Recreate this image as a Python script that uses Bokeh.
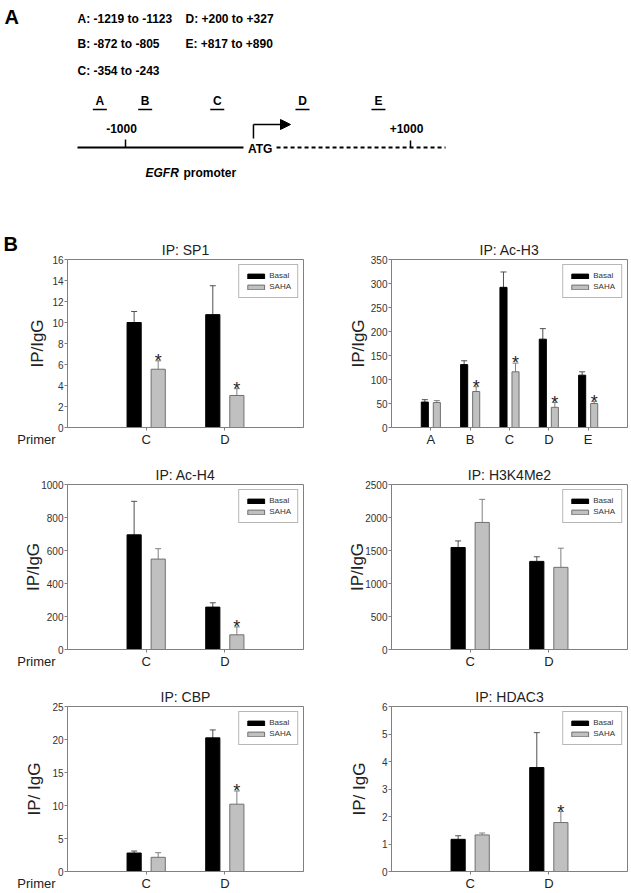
import numpy as np
from bokeh.plotting import figure
from bokeh.models import (Range1d, FixedTicker, Whisker, TeeHead, ColumnDataSource,
                          Legend, LegendItem, Label, Arrow, NormalHead, Title)
from bokeh.layouts import column, row
from bokeh.embed import file_html
from bokeh.resources import INLINE
from bokeh.core.properties import value

FONT = "Liberation Sans"

# ---------------- Panel A data ----------------
primer_names = ["A", "B", "C", "D", "E"]
primer_ranges = ["-1219 to -1123", "-872 to -805", "-354 to -243", "+200 to +327", "+817 to +890"]
primer_draw_mid = [-1180, -862, -356, 242, 775]     # schematic positions on the map (bp)
scale_marks = [-1000, 1000]
scale_labels = ["-1000", "+1000"]
promoter_start = -1337
atg_pos = -55
gene_end = 1246

# ---------------- Panel B data ----------------
sp1_primers = ["C", "D"]
sp1_basal, sp1_basal_err = [10.0, 10.75], [1.05, 2.75]
sp1_saha, sp1_saha_err = [5.55, 3.05], [0.8, 0.65]
sp1_star = [True, True]

h3_primers = ["A", "B", "C", "D", "E"]
h3_basal, h3_basal_err = [53, 131, 292, 184, 109], [5, 8, 32, 22, 7]
h3_saha, h3_saha_err = [52, 75, 116, 42, 50], [4, 10, 18, 10, 4]
h3_star = [False, True, True, True, True]

h4_primers = ["C", "D"]
h4_basal, h4_basal_err = [695, 257], [203, 26]
h4_saha, h4_saha_err = [548, 89], [63, 48]
h4_star = [False, True]

k4_primers = ["C", "D"]
k4_basal, k4_basal_err = [1545, 1335], [100, 70]
k4_saha, k4_saha_err = [1925, 1245], [350, 290]
k4_star = [False, False]

cbp_primers = ["C", "D"]
cbp_basal, cbp_basal_err = [2.8, 20.25], [0.3, 1.2]
cbp_saha, cbp_saha_err = [2.15, 10.2], [0.7, 2.0]
cbp_star = [False, True]

hd_primers = ["C", "D"]
hd_basal, hd_basal_err = [1.17, 3.78], [0.13, 1.27]
hd_saha, hd_saha_err = [1.33, 1.78], [0.07, 0.4]
hd_star = [False, True]

series_names = ["Basal", "SAHA"]

# ---------------- Panel A figure ----------------
PA_W, PA_H = 631, 182
BPPX = 2000.0 / 285.0
X0 = -1000 - 125 * BPPX
X1 = X0 + PA_W * BPPX


def bx(page_x):
    return X0 + page_x * BPPX


pa = figure(width=PA_W, height=PA_H, x_range=Range1d(X0, X1), y_range=Range1d(PA_H, 0),
            output_backend="svg", toolbar_location=None, min_border=0,
            x_axis_location=None, y_axis_location=None, outline_line_color=None)
pa.grid.visible = False

pa.text(x=[bx(4)], y=[16], text=["A"], text_font=value(FONT), text_font_style="bold",
        text_font_size="20px", text_baseline="middle", text_align="left", text_color="black")

col_x = [bx(77)] * 3 + [bx(185)] * 2
col_y = [18, 43, 70, 18, 43]
pa.text(x=col_x, y=col_y, text=[f"{n}: {r}" for n, r in zip(primer_names, primer_ranges)],
        text_font=value(FONT), text_font_style="bold", text_font_size="12px",
        text_baseline="middle", text_align="left", text_color="black")

half_u = 7 * BPPX
pa.text(x=primer_draw_mid, y=[100] * 5, text=primer_names, text_font=value(FONT),
        text_font_style="bold", text_font_size="12px", text_baseline="middle",
        text_align="center", text_color="black")
pa.segment(x0=[m - half_u for m in primer_draw_mid], x1=[m + half_u for m in primer_draw_mid],
           y0=[109] * 5, y1=[109] * 5, line_color="black", line_width=1.5)

pa.text(x=[m - 4 * BPPX for m in scale_marks], y=[128, 128], text=scale_labels,
        text_font=value(FONT), text_font_style="bold", text_font_size="12px",
        text_baseline="middle", text_align="center", text_color="black")
pa.segment(x0=scale_marks, x1=scale_marks, y0=[139, 140], y1=[147, 147],
           line_color="black", line_width=1.5)

pa.segment(x0=[promoter_start], x1=[atg_pos - 117], y0=[147], y1=[147],
           line_color="black", line_width=2)
pa.segment(x0=[atg_pos + 115], x1=[gene_end], y0=[147], y1=[147],
           line_color="black", line_width=2, line_dash="4 3")
pa.text(x=[atg_pos], y=[148], text=["ATG"], text_font=value(FONT), text_font_style="bold",
        text_font_size="12px", text_baseline="middle", text_align="center", text_color="black")

arrow_x0 = atg_pos - 47
pa.segment(x0=[arrow_x0], x1=[arrow_x0], y0=[138], y1=[124], line_color="black", line_width=1.5)
pa.add_layout(Arrow(end=NormalHead(size=10, fill_color="black", line_color="black"),
                    x_start=arrow_x0, y_start=124, x_end=atg_pos + 213, y_end=124,
                    line_color="black", line_width=1.5))

pa.text(x=[bx(145)], y=[172], text=["EGFR"], text_font=value(FONT), text_font_style="bold italic",
        text_font_size="12px", text_baseline="middle", text_align="left", text_color="black")
pa.text(x=[bx(183)], y=[172], text=["promoter"], text_font=value(FONT), text_font_style="bold",
        text_font_size="12px", text_baseline="middle", text_align="left", text_color="black")


# ---------------- Panel B charts ----------------
def make_chart(title, primers, basal, basal_err, saha, saha_err, stars, ymax, ystep,
               ylabel, ylab_standoff, left_col, height, bt, bb, primer_label=False,
               panel_letter=None):
    n = len(primers)
    if left_col:
        W, bl, br = 314, 67, 11
    else:
        W, bl, br = 317, 77, 4
    frame_w = W - bl - br
    frame_h = height - bt - bb
    p = figure(width=W, height=height, x_range=Range1d(0, n + 1), y_range=Range1d(0, ymax),
               title=None, output_backend="svg", toolbar_location=None,
               min_border_left=bl, min_border_right=br, min_border_top=bt, min_border_bottom=bb,
               background_fill_color="white", border_fill_color="white",
               outline_line_color="#808080", outline_line_width=1)
    p.grid.visible = False

    # title first so it sits right above the frame
    p.add_layout(Title(text=title, align="center", vertical_align="top", text_font=FONT,
                       text_font_size="14px", text_font_style="normal", text_color="#222222",
                       standoff=0), "above")

    xs = np.arange(1, n + 1)
    off, bw = 0.153, 0.18
    bx_ = xs - off
    sx_ = xs + off
    rb = p.vbar(x=bx_, top=basal, width=bw, fill_color="black", line_color="black")
    rs = p.vbar(x=sx_, top=saha, width=bw, fill_color="#c0c0c0", line_color="#707070", line_width=1)

    for xx, m, e, col in ((bx_, basal, basal_err, "#505050"), (sx_, saha, saha_err, "#808080")):
        src = ColumnDataSource(dict(x=xx, lower=m, upper=np.array(m) + np.array(e)))
        w = Whisker(base="x", lower="lower", upper="upper", source=src, dimension="height",
                    line_color=col, line_width=1,
                    upper_head=TeeHead(size=6, line_color=col, line_width=1), lower_head=None)
        p.add_layout(w)

    st_x = [sx_[i] for i in range(n) if stars[i]]
    st_y = [saha[i] + saha_err[i] for i in range(n) if stars[i]]
    if st_x:
        p.text(x=st_x, y=st_y, text=["*"] * len(st_x), text_font=value(FONT),
               text_font_size="18px", text_align="center", text_baseline="alphabetic",
               text_color="#222222")

    leg = Legend(items=[LegendItem(label=series_names[0], renderers=[rb]),
                        LegendItem(label=series_names[1], renderers=[rs])],
                 location="top_right", margin=5, padding=6, spacing=2, label_height=8,
                 glyph_height=6, glyph_width=21, label_standoff=3,
                 label_text_font_size="8px", label_text_font=FONT, label_text_color="#333333",
                 border_line_color="#707070", border_line_width=1)
    p.add_layout(leg)

    p.xaxis.ticker = FixedTicker(ticks=[int(v) for v in xs])
    p.xaxis.major_label_overrides = {int(v): lab for v, lab in zip(xs, primers)}
    p.xaxis.major_tick_out = 3
    p.xaxis.major_tick_in = 0
    p.xaxis.major_label_standoff = 1
    p.xaxis.major_label_text_font_size = "13px"
    p.xaxis.major_label_text_color = "#222222"

    p.yaxis.ticker = FixedTicker(ticks=list(range(0, ymax + 1, ystep)))
    p.yaxis.major_tick_out = 3
    p.yaxis.major_tick_in = 0
    p.yaxis.major_label_standoff = 1
    p.yaxis.major_label_text_font_size = "10px"
    p.yaxis.major_label_text_color = "#333333"
    p.yaxis.axis_label = ylabel
    p.yaxis.axis_label_text_font = FONT
    p.yaxis.axis_label_text_font_size = "17px"
    p.yaxis.axis_label_text_font_style = "normal"
    p.yaxis.axis_label_text_color = "#222222"
    p.yaxis.axis_label_standoff = ylab_standoff

    for ax in (p.xaxis, p.yaxis):
        ax.axis_line_color = "#808080"
        ax.major_tick_line_color = "#808080"
        ax.minor_tick_line_color = None
        ax.major_label_text_font = FONT

    ux = (n + 1) / frame_w
    uy = ymax / frame_h
    if primer_label:
        p.add_layout(Label(x=-31 * ux, y=-12.5 * uy, text="Primer", text_font=FONT,
                           text_font_size="13px", text_align="center", text_baseline="middle",
                           text_color="#222222"), "above")
    if panel_letter:
        p.add_layout(Label(x=-(bl - 3) * ux, y=ymax + 16 * uy, text=panel_letter, text_font=FONT,
                           text_font_size="20px", text_font_style="bold", text_align="left",
                           text_baseline="middle", text_color="black"), "above")
    return p


p1 = make_chart("IP: SP1", sp1_primers, sp1_basal, sp1_basal_err, sp1_saha, sp1_saha_err, sp1_star,
                16, 2, "IP/IgG", 2, True, 267, 77, 21, primer_label=True, panel_letter="B")
p2 = make_chart("IP: Ac-H3", h3_primers, h3_basal, h3_basal_err, h3_saha, h3_saha_err, h3_star,
                350, 50, "IP/IgG", 0, False, 267, 77, 21)
p3 = make_chart("IP: Ac-H4", h4_primers, h4_basal, h4_basal_err, h4_saha, h4_saha_err, h4_star,
                1000, 200, "IP/IgG", -5, True, 222, 35, 20, primer_label=True)
p4 = make_chart("IP: H3K4Me2", k4_primers, k4_basal, k4_basal_err, k4_saha, k4_saha_err, k4_star,
                2500, 500, "IP/IgG", -5, False, 222, 35, 20)
p5 = make_chart("IP: CBP", cbp_primers, cbp_basal, cbp_basal_err, cbp_saha, cbp_saha_err, cbp_star,
                25, 5, "IP/ IgG", 5, True, 222, 35, 21, primer_label=True)
p6 = make_chart("IP: HDAC3", hd_primers, hd_basal, hd_basal_err, hd_saha, hd_saha_err, hd_star,
                6, 1, "IP/ IgG", 10, False, 222, 35, 21)

layout = column(pa, row(p1, p2), row(p3, p4), row(p5, p6))

with open("out.html", "w") as f:
    f.write(file_html(layout, INLINE))
